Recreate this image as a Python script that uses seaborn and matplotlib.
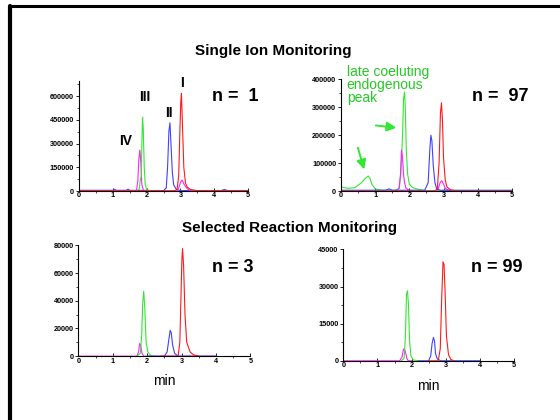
import pandas as pd
import matplotlib
matplotlib.use("Agg")
import matplotlib.pyplot as plt
from matplotlib.lines import Line2D
from matplotlib.ticker import MultipleLocator
import seaborn as sns

# ---- data (time in min, intensity in counts) ----
# Single Ion Monitoring, n = 1
sim1_red_t = [0, 2.8, 2.9, 2.95, 2.98, 3.01, 3.03, 3.06, 3.1, 3.15, 3.2, 3.3, 3.5, 5.0]
sim1_red_y = [2000, 2000, 8000, 100000, 350000, 560000, 617000, 420000, 150000, 50000, 25000, 10000, 3000, 2000]
sim1_blue_t = [0, 0.5, 1.0, 1.05, 1.1, 1.4, 1.45, 1.5, 2.5, 2.58, 2.62, 2.66, 2.69, 2.72, 2.76, 2.8, 2.88, 3.0, 4.2, 4.3, 4.4, 5.0]
sim1_blue_y = [5000, 5000, 5000, 12000, 5000, 5000, 12000, 5000, 3000, 20000, 150000, 380000, 431000, 300000, 120000, 40000, 10000, 3000, 3000, 10000, 3000, 3000]
sim1_mag_t = [0, 1.6, 1.7, 1.74, 1.77, 1.8, 1.83, 1.86, 1.9, 2.0, 2.9, 2.95, 3.0, 3.05, 3.1, 3.2, 3.3, 5.0]
sim1_mag_y = [0, 0, 5000, 60000, 200000, 259000, 180000, 40000, 8000, 0, 0, 20000, 55000, 70000, 45000, 15000, 2000, 0]
sim1_green_t = [1.6, 1.7, 1.78, 1.82, 1.84, 1.86, 1.88, 1.9, 1.93, 1.96, 2.0, 2.1, 2.2]
sim1_green_y = [0, 0, 10000, 80000, 90000, 300000, 467000, 400000, 150000, 40000, 10000, 2000, 0]

# Single Ion Monitoring, n = 97
sim97_green_t = [0, 0.2, 0.4, 0.6, 0.7, 0.8, 0.85, 0.9, 1.0, 1.2, 1.6, 1.7, 1.75, 1.8, 1.83, 1.86, 1.88, 1.91, 1.95, 2.0, 2.1, 2.3, 2.5, 5.0]
sim97_green_y = [15000, 10000, 12000, 30000, 45000, 54000, 45000, 25000, 8000, 3000, 3000, 10000, 60000, 200000, 330000, 355000, 300000, 150000, 60000, 25000, 12000, 5000, 2000, 2000]
sim97_mag_t = [0, 1.6, 1.7, 1.74, 1.77, 1.8, 1.83, 1.86, 1.9, 2.0, 2.2, 2.8, 2.85, 2.9, 2.95, 3.0, 3.05, 3.15, 3.3, 5.0]
sim97_mag_y = [0, 0, 10000, 60000, 147000, 120000, 60000, 30000, 10000, 3000, 0, 0, 10000, 30000, 37000, 25000, 10000, 3000, 0, 0]
sim97_blue_t = [0, 1.3, 1.4, 1.5, 2.45, 2.55, 2.6, 2.63, 2.66, 2.7, 2.75, 2.8, 2.9, 5.0]
sim97_blue_y = [3000, 3000, 8000, 3000, 3000, 30000, 150000, 200000, 180000, 90000, 30000, 8000, 3000, 3000]
sim97_red_t = [0, 2.75, 2.82, 2.87, 2.91, 2.94, 2.97, 3.0, 3.05, 3.1, 3.2, 3.4, 5.0]
sim97_red_y = [0, 0, 10000, 100000, 280000, 316000, 250000, 120000, 40000, 15000, 5000, 0, 0]

# Selected Reaction Monitoring, n = 3
srm3_mag_t = [0, 1.7, 1.75, 1.78, 1.81, 1.85, 1.9, 4.0]
srm3_mag_y = [0, 0, 3000, 9100, 8000, 2000, 0, 0]
srm3_green_t = [1.7, 1.8, 1.84, 1.87, 1.9, 1.93, 1.97, 2.02, 2.1, 2.2]
srm3_green_y = [0, 2000, 15000, 38000, 46800, 35000, 10000, 3000, 500, 0]
srm3_blue_t = [2.0, 2.5, 2.58, 2.63, 2.67, 2.7, 2.74, 2.8, 2.9, 4.0]
srm3_blue_y = [0, 0, 3000, 12000, 18700, 17000, 8000, 2000, 0, 0]
srm3_red_t = [2.4, 2.9, 2.95, 2.98, 3.01, 3.03, 3.06, 3.1, 3.15, 3.25, 3.35, 3.5]
srm3_red_y = [0, 0, 10000, 40000, 70000, 77600, 65000, 30000, 10000, 3000, 1000, 0]

# Selected Reaction Monitoring, n = 99
srm99_mag_t = [0, 1.65, 1.72, 1.76, 1.79, 1.82, 1.86, 1.9, 2.0]
srm99_mag_y = [0, 0, 1500, 4500, 5000, 3500, 1000, 0, 0]
srm99_green_t = [1.7, 1.78, 1.82, 1.85, 1.88, 1.91, 1.94, 1.98, 2.05, 2.2]
srm99_green_y = [0, 1000, 10000, 27000, 28300, 22000, 8000, 2000, 300, 0]
srm99_blue_t = [2.2, 2.5, 2.56, 2.6, 2.64, 2.67, 2.7, 2.75, 2.85, 4.0]
srm99_blue_y = [0, 0, 2000, 7000, 9450, 8000, 3000, 800, 0, 0]
srm99_red_t = [2.5, 2.78, 2.84, 2.88, 2.92, 2.95, 2.98, 3.02, 3.08, 3.15, 3.25]
srm99_red_y = [0, 0, 5000, 25000, 40000, 39000, 28000, 10000, 2500, 500, 0]

y_ticks_sim1 = [0, 150000, 300000, 450000, 600000]
y_ticks_sim97 = [0, 100000, 200000, 300000, 400000]
y_ticks_srm3 = [0, 20000, 40000, 60000, 80000]
y_ticks_srm99 = [0, 15000, 30000, 45000]
x_ticks = [0, 1, 2, 3, 4, 5]

palette = {"red": "#ff1a1a", "blue": "#4040ff", "green": "#33e833", "magenta": "#ff22ff"}


def make_df(traces):
    frames = []
    for name, t, y in traces:
        frames.append(pd.DataFrame({"time": t, "intensity": y, "trace": name}))
    return pd.concat(frames, ignore_index=True)


panels = [
    (make_df([("blue", sim1_blue_t, sim1_blue_y), ("magenta", sim1_mag_t, sim1_mag_y),
              ("green", sim1_green_t, sim1_green_y), ("red", sim1_red_t, sim1_red_y)]),
     [0.141, 0.545, 0.302, 0.262], y_ticks_sim1, 695000, "n =  1", (4.62, 600000)),
    (make_df([("green", sim97_green_t, sim97_green_y), ("magenta", sim97_mag_t, sim97_mag_y),
              ("blue", sim97_blue_t, sim97_blue_y), ("red", sim97_red_t, sim97_red_y)]),
     [0.609, 0.545, 0.305, 0.266], y_ticks_sim97, 400000, "n =  97", (4.65, 340000)),
    (make_df([("magenta", srm3_mag_t, srm3_mag_y), ("green", srm3_green_t, srm3_green_y),
              ("blue", srm3_blue_t, srm3_blue_y), ("red", srm3_red_t, srm3_red_y)]),
     [0.140, 0.152, 0.307, 0.264], y_ticks_srm3, 80000, "n = 3", (4.5, 64100)),
    (make_df([("magenta", srm99_mag_t, srm99_mag_y), ("green", srm99_green_t, srm99_green_y),
              ("blue", srm99_blue_t, srm99_blue_y), ("red", srm99_red_t, srm99_red_y)]),
     [0.613, 0.141, 0.305, 0.265], y_ticks_srm99, 45000, "n = 99", (4.5, 37850)),
]

sns.set_style("ticks")
plt.rcParams["font.family"] = ["Liberation Sans", "DejaVu Sans"]
plt.rcParams["font.weight"] = "bold"
plt.rcParams["text.color"] = "black"
plt.rcParams["axes.labelcolor"] = "black"
plt.rcParams["xtick.color"] = "black"
plt.rcParams["ytick.color"] = "black"

fig = plt.figure(figsize=(5.6, 4.2), dpi=100)
axes = []
for df, rect, yticks, ymax, ntext, npos in panels:
    ax = fig.add_axes(rect)
    for name in df["trace"].unique():
        sub = df[df["trace"] == name]
        sns.lineplot(data=sub, x="time", y="intensity", color=palette[name], sort=False,
                     estimator=None, lw=0.8, ax=ax, legend=False)
    ax.set_xlim(0, 5)
    ax.set_ylim(0, ymax)
    ax.set_xticks(x_ticks)
    ax.set_yticks(yticks)
    ax.set_yticklabels([str(v) for v in yticks])
    ax.xaxis.set_minor_locator(MultipleLocator(0.5))
    ax.yaxis.set_minor_locator(MultipleLocator((yticks[1] - yticks[0]) / 2))
    ax.tick_params(labelsize=5.2, width=0.6, length=2.5, pad=1)
    ax.tick_params(axis="x", direction="in")
    ax.tick_params(which="minor", length=1.5, width=0.5)
    for s in ["top", "right"]:
        ax.spines[s].set_visible(False)
    for s in ["left", "bottom"]:
        ax.spines[s].set_linewidth(0.8)
        ax.spines[s].set_color("black")
    ax.set_xlabel("")
    ax.set_ylabel("")
    ax.text(npos[0], npos[1], ntext, fontsize=13, ha="center", va="center", clip_on=False)
    axes.append(ax)

# peak labels, SIM n = 1
ax1 = axes[0]
ax1.text(1.39, 316000, "IV", fontsize=10, ha="center", va="center")
ax1.text(1.95, 594000, "III", fontsize=10, ha="center", va="center")
ax1.text(2.66, 493000, "II", fontsize=10, ha="center", va="center")
ax1.text(3.05, 682000, "I", fontsize=10, ha="center", va="center", clip_on=False)

# annotation, SIM n = 97
ax2 = axes[1]
ax2.text(0.17, 450000, "late coeluting\nendogenous\npeak", fontsize=10, fontweight="normal",
         color="#22cc22", ha="left", va="top", linespacing=0.88, clip_on=False)
arrow = dict(arrowstyle="-|>", color="#33e833", lw=1.4, mutation_scale=14)
ax2.annotate("", xy=(1.70, 226000), xytext=(0.94, 236000), arrowprops=arrow)
ax2.annotate("", xy=(0.70, 68000), xytext=(0.47, 165000), arrowprops=arrow)

axes[2].set_xlabel("min", fontsize=10, labelpad=7)
axes[3].set_xlabel("min", fontsize=10, labelpad=7)

fig.text(273 / 560, 1 - 51 / 420, "Single Ion Monitoring", fontsize=11, ha="center", va="center")
fig.text(289 / 560, 1 - 228 / 420, "Selected Reaction Monitoring", fontsize=11, ha="center", va="center")

# slide frame
fig.add_artist(Line2D([10 / 560, 10 / 560], [0, 1 - 6 / 420], color="black", lw=3, transform=fig.transFigure))
fig.add_artist(Line2D([10 / 560, 1], [1 - 6 / 420, 1 - 6 / 420], color="black", lw=2.2, transform=fig.transFigure))

fig.savefig("out.png", dpi=100)
